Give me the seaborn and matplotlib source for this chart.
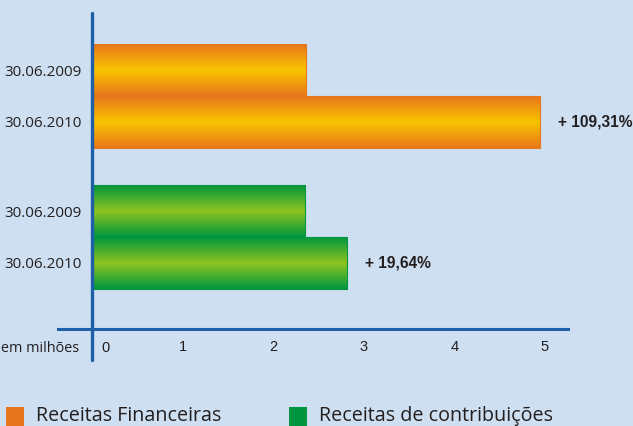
import numpy as np
import pandas as pd
import matplotlib
matplotlib.use("Agg")
import matplotlib.pyplot as plt
import seaborn as sns
from matplotlib.colors import LinearSegmentedColormap
from matplotlib.patches import Rectangle

# ---------------- data ----------------
series = ["Receitas Financeiras", "Receitas de contribuições"]
dates = ["30.06.2009", "30.06.2010"]
fin_values = [2.36, 4.94]
contrib_values = [2.35, 2.81]
pct_labels = ["+ 109,31%", "+ 19,64%"]
x_ticks = [1, 2, 3, 4, 5]
zero_label = "0"
unit_label = "em milhões"

df = pd.DataFrame({
    "serie": [series[0]] * 2 + [series[1]] * 2,
    "data": dates * 2,
    "valor": fin_values + contrib_values,
})

# ---------------- style ----------------
BG = "#cddff0"
AXIS = "#1f5fa8"
TEXT = "#231f20"
grad = {series[0]: ("#e8761c", "#f8c400"), series[1]: ("#00963f", "#8ec41f")}
legend_colors = ["#e8761c", "#00963f"]

sns.set_theme(style="white")
plt.rcParams["font.family"] = ["Open Sans", "DejaVu Sans"]

W, H = 633, 426
fig = plt.figure(figsize=(W / 100, H / 100), dpi=100, facecolor=BG)
ax = fig.add_axes([58 / W, 1 - 329 / H, (568 - 58) / W, (329 - 13) / H])
ax.set_facecolor(BG)

sns.barplot(data=df, y="serie", x="valor", hue="data", order=series,
            hue_order=dates, orient="h", dodge=True, width=0.731,
            palette=[legend_colors[0]] * 2, errorbar=None, saturation=1,
            legend=False, ax=ax)

# gradient fill for every bar
prof = np.linspace(0, 1, 256).reshape(-1, 1)
centers = []
for p in list(ax.patches):
    x0, y0 = p.get_x(), p.get_y()
    w, h = p.get_width(), p.get_height()
    if w <= 0:
        continue
    yc = y0 + h / 2
    idx = int(round(yc))
    edge, mid = grad[series[idx]]
    cmap = LinearSegmentedColormap.from_list(
        "g", [(0, edge), (0.5, mid), (1, edge)])
    im = ax.imshow(prof, cmap=cmap, aspect="auto", interpolation="bicubic",
                   extent=(x0, x0 + w, y0 + h, y0), zorder=2)
    im.set_clip_path(p)
    p.set_facecolor("none")
    p.set_edgecolor(edge)
    p.set_linewidth(0.8)
    p.set_zorder(3)
    centers.append((yc, x0 + w, idx))

centers.sort()

# limits
unit_px = 90.6
ax.set_xlim(-(92 - 58) / unit_px, (568 - 92) / unit_px)
ax.set_ylim(1 + (329 - 237) / 141, 0 - (96 - 13) / 141)

# spines / axis lines
for s in ["top", "right", "left"]:
    ax.spines[s].set_visible(False)
ax.spines["bottom"].set_color(AXIS)
ax.spines["bottom"].set_linewidth(2.2)
ax.spines["bottom"].set_zorder(4)
ax.axvline(0, ymin=-(360 - 329) / (329 - 13), ymax=1, color=AXIS, lw=2.4,
           clip_on=False, zorder=5)

# x ticks
ax.set_xticks(x_ticks)
ax.set_xticklabels([str(t) for t in x_ticks])
ax.tick_params(axis="x", direction="in", length=6.5, width=1.8, color=AXIS,
               pad=8, labelsize=10.5, labelcolor=TEXT,
               labelfontfamily="Liberation Sans")
ax.text(13 / unit_px, 1 + (348 - 237) / 141, zero_label, ha="center",
        va="center", fontsize=10.5, color=TEXT,
        family=["Liberation Sans", "DejaVu Sans"], clip_on=False)

# y tick labels (dates)
ax.set_yticks([c[0] for c in centers])
ax.set_yticklabels([dates[i % 2] for i in range(len(centers))])
ax.tick_params(axis="y", length=0, pad=-(82 - 58) * 0.72, labelsize=11.0,
               labelcolor=TEXT)
ax.set_xlabel("")
ax.set_ylabel("")

# percentage annotations on 2010 bars
for k, (yc, xe, idx) in enumerate([c for j, c in enumerate(centers) if j % 2 == 1]):
    ax.annotate(pct_labels[k], (xe, yc), xytext=(13, 0), textcoords="offset points",
                ha="left", va="center", fontsize=11.2, fontweight="bold",
                color=TEXT, family=["Liberation Sans", "DejaVu Sans"],
                annotation_clip=False)

# unit label
fig.text(79 / W, 1 - 348 / H, unit_label, ha="right", va="center",
         fontsize=10.4, color=TEXT)

# legend (bottom)
leg_items = [(6, 36), (289, 319)]
for (sx, tx), name, col in zip(leg_items, series, legend_colors):
    fig.add_artist(Rectangle((sx / W, 0), 18 / W, (426 - 407) / H,
                             transform=fig.transFigure, facecolor=col,
                             edgecolor="none"))
    fig.text(tx / W, 1 - 421 / H, name, ha="left", va="baseline",
             fontsize=14.2, color=TEXT)

fig.savefig("out.png", dpi=100, facecolor=BG)
